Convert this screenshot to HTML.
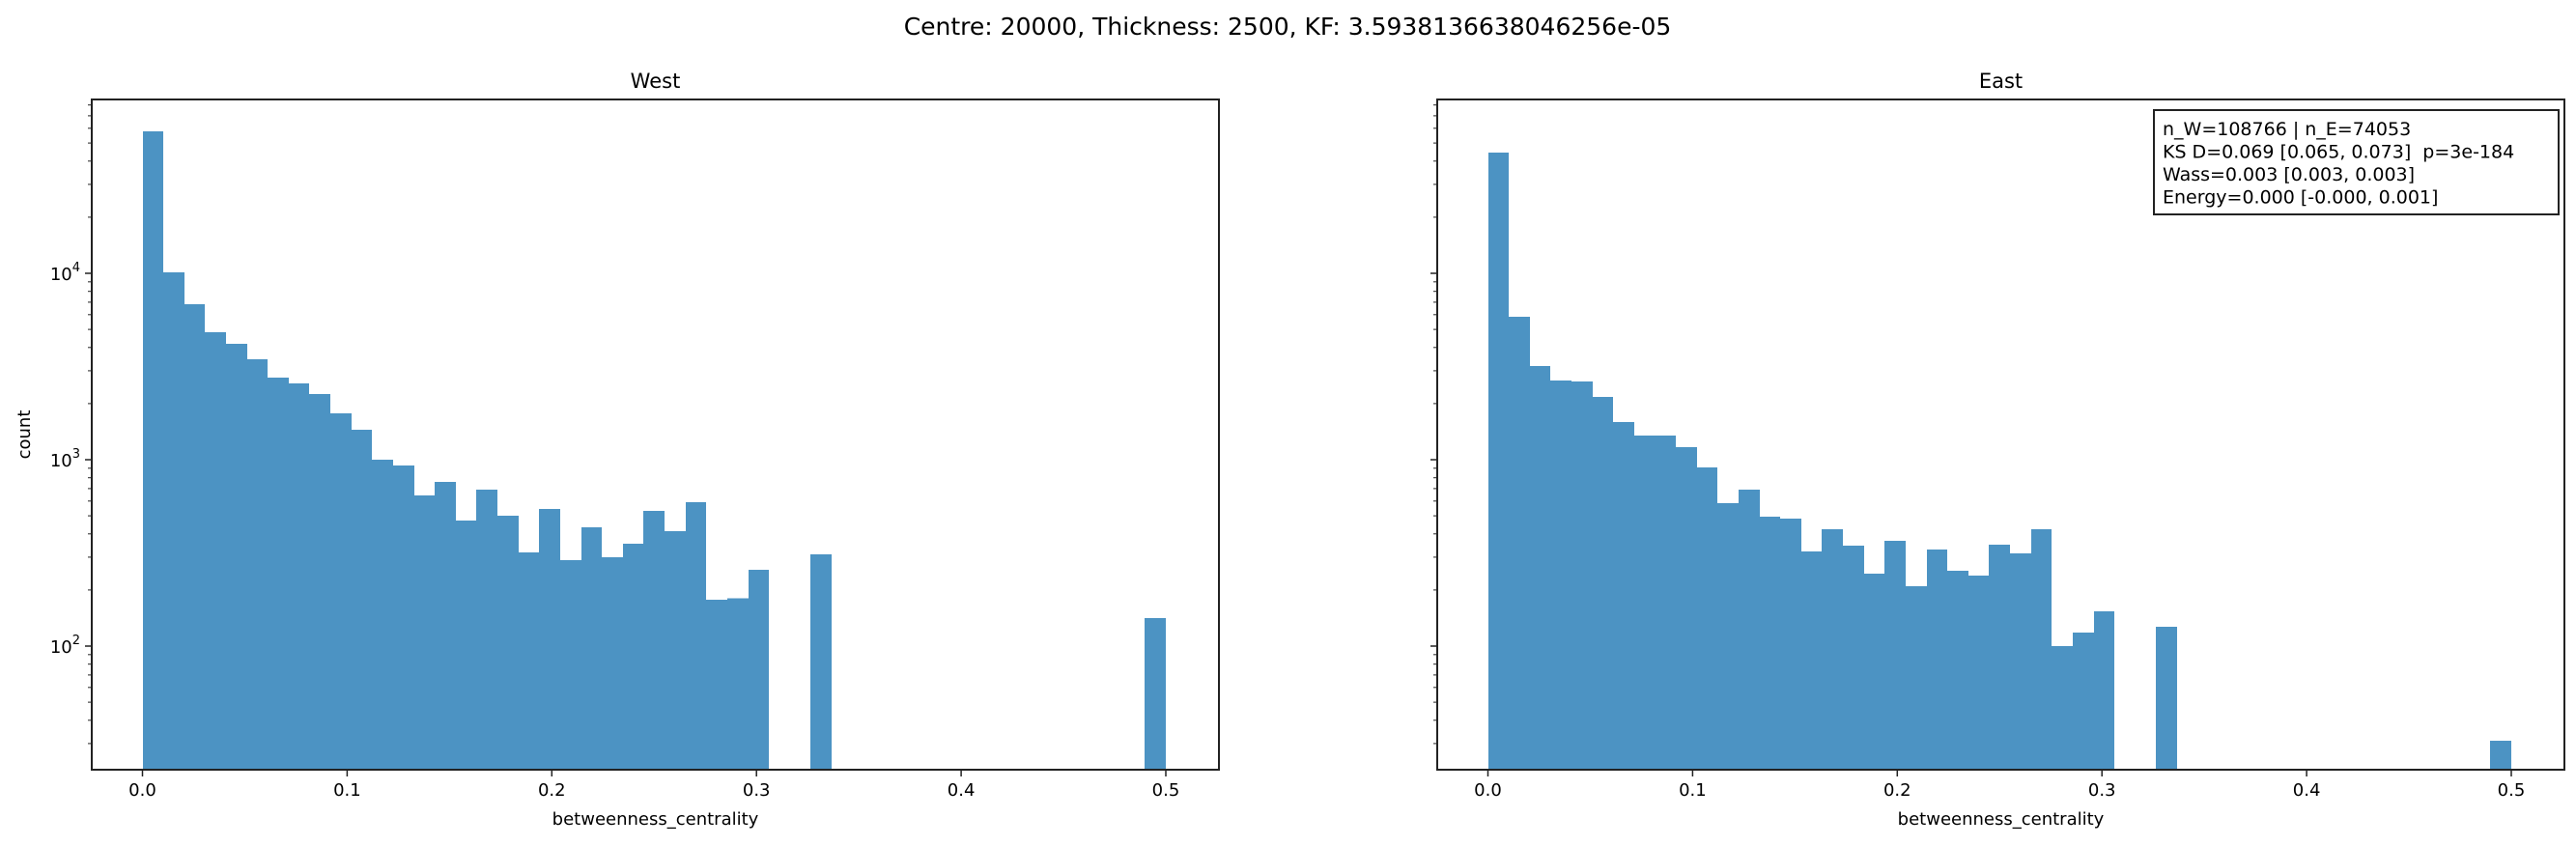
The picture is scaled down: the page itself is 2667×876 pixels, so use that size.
<!DOCTYPE html>
<html><head><meta charset="utf-8">
<style>
html,body{margin:0;padding:0;background:#fff;}
svg{display:block;font-family:"DejaVu Sans","Liberation Sans",sans-serif;}
</style></head>
<body>
<svg id="fig" width="2667" height="876" viewBox="0 0 2667 876" xmlns="http://www.w3.org/2000/svg">
<rect width="2667" height="876" fill="#fff"/>
<text x="1333" y="36" font-size="25" text-anchor="middle" fill="#000">Centre: 20000, Thickness: 2500, KF: 3.5938136638046256e-05</text>
</svg>
<script>
const westCounts = [57800,10100,6830,4830,4190,3460,2760,2570,2250,1770,1450,1000,930,643,760,472,690,500,318,544,289,434,300,354,531,414,592,177,181,257,0,0,310,0,0,0,0,0,0,0,0,0,0,0,0,0,0,0,141];
const eastCounts = [44400,5850,3180,2660,2630,2170,1590,1350,1350,1170,910,585,690,494,483,322,424,346,245,367,210,330,254,239,350,314,424,100,118,154,0,0,127,0,0,0,0,0,0,0,0,0,0,0,0,0,0,0,31];
const xTicks = [0.0,0.1,0.2,0.3,0.4,0.5];
const xTickLabels = ["0.0","0.1","0.2","0.3","0.4","0.5"];
const yMajor = [2,3,4];
const binMax = 0.5;
const nBins = 49;
const statsLines = ["n_W=108766 | n_E=74053","KS D=0.069 [0.065, 0.073]  p=3e-184","Wass=0.003 [0.003, 0.003]","Energy=0.000 [-0.000, 0.001]"];

const NS="http://www.w3.org/2000/svg";
const svg=document.getElementById('fig');
function mk(tag,attrs,parent){const e=document.createElementNS(NS,tag);for(const k in attrs)e.setAttribute(k,attrs[k]);(parent||svg).appendChild(e);return e;}

const AX_TOP=103, AX_BOT=797, Y4=283, DEC=193;
function yScale(v){return Y4-(Math.log10(v)-4)*DEC;}
const yMinVal=Math.pow(10,4-(AX_BOT-Y4)/DEC);
const yMaxVal=Math.pow(10,4+(Y4-AX_TOP)/DEC);

function panel(left,right,zero,title,counts,showY,name){
  const g=mk('g',{});
  
  
  const pxPer=(211.9)/0.1;
  const xs=v=>zero+v*pxPer;
  const w=binMax/nBins;
  counts.forEach((c,i)=>{
    if(c<=0)return;
    const x0=Math.round(xs(i*w)), x1=Math.round(xs((i+1)*w));
    const y=yScale(Math.max(c,yMinVal));
    const r=mk('rect',{x:x0,y:y,width:x1-x0,height:AX_BOT-y,fill:'#4c93c3','shape-rendering':'crispEdges'},g);
    
    
  });
  const fr=mk('rect',{x:left,y:AX_TOP,width:right-left,height:AX_BOT-AX_TOP,fill:'none',stroke:'#222','stroke-width':2},g);
  
  
  xTicks.forEach((t,i)=>{
    const x=xs(t);
    mk('line',{x1:x,x2:x,y1:AX_BOT,y2:AX_BOT+7,stroke:'#222','stroke-width':1.5},g);
    const tl=mk('text',{x:x,y:AX_BOT+27,'font-size':18,'text-anchor':'middle',fill:'#000'},g);
    tl.textContent=xTickLabels[i];
    
    
  });
  const xl=mk('text',{x:(left+right)/2,y:AX_BOT+57,'font-size':18,'text-anchor':'middle',fill:'#000'},g);
  xl.textContent='betweenness_centrality';
  
  
  const tt=mk('text',{x:(left+right)/2,y:AX_TOP-12,'font-size':21,'text-anchor':'middle',fill:'#000'},g);
  tt.textContent=title;
  
  
  for(let d=1;d<=4;d++){
    for(let m=1;m<=9;m++){
      const v=m*Math.pow(10,d);
      if(v<yMinVal||v>yMaxVal)continue;
      const y=yScale(v);
      mk('line',{x1:left,x2:left-(m===1?7:4),y1:y,y2:y,stroke:'#222','stroke-width':m===1?1.5:1},g);
    }
  }
  if(showY){
    yMajor.forEach(p=>{
      const y=yScale(Math.pow(10,p));
      const t=mk('text',{x:left-12,y:y+7,'font-size':18,'text-anchor':'end',fill:'#000'},g);
      t.textContent='10';
      const s=mk('tspan',{dy:-9,'font-size':13},t);
      s.textContent=String(p);
      
      
    });
    const yl=mk('text',{x:0,y:0,'font-size':18,'text-anchor':'middle',fill:'#000',transform:'translate(31,'+((AX_TOP+AX_BOT)/2)+') rotate(-90)'},g);
    yl.textContent='count';
    
    
  }
}
panel(95,1262,147.5,'West',westCounts,true,'west');
panel(1488,2655,1540.5,'East',eastCounts,false,'east');

const box=mk('g',{});


mk('rect',{x:2230,y:114,width:419,height:108,fill:'#fff',stroke:'#222','stroke-width':2},box);
statsLines.forEach((s,i)=>{
  const t=mk('text',{x:2239,y:140+i*23.5,'font-size':19,fill:'#000',style:'white-space:pre'},box);
  t.textContent=s;
  
  
});
</script>
</body></html>
